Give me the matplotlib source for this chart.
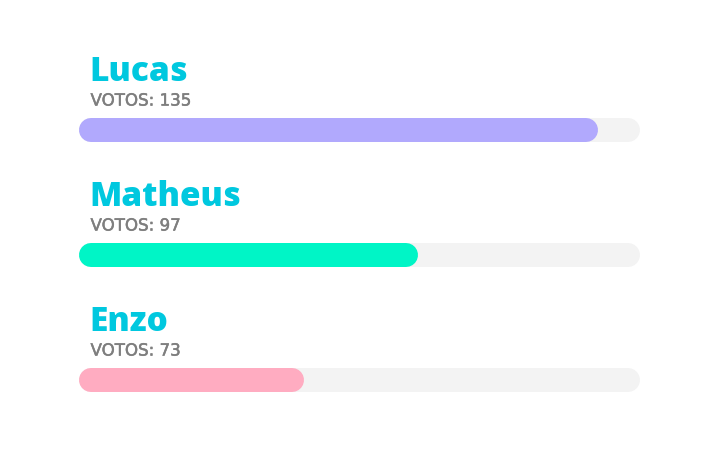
import matplotlib.pyplot as plt
import matplotlib.patheffects as pe

# dados
nomes = ["Lucas", "Matheus", "Enzo"]
votos = [135, 97, 73]
cores = ["#B1A9FD", "#00F5C6", "#FFACC1"]

fig = plt.figure(figsize=(7.2, 4.51), dpi=100)
ax = fig.add_axes([79 / 720, 0, 561 / 720, 1])

xmin, xmax = 25.44, 143.8
ax.set_xlim(xmin, xmax)
ax.set_ylim(2.568, -1.04)
ax.axis("off")

# raio da ponta arredondada (12 px) em unidades de dados
raio = 12 * (xmax - xmin) / 561
lw = 24 * 0.72

for i, (nome, v, cor) in enumerate(zip(nomes, votos, cores)):
    # trilho cinza
    ax.plot([xmin + raio, xmax - raio], [i, i], color="#F3F3F3", lw=lw,
            solid_capstyle="round")
    # barra de votos
    ax.plot([xmin + raio, v - raio], [i, i], color=cor, lw=lw,
            solid_capstyle="round")
    # nome e votos
    ax.annotate(nome, xy=(xmin, i), xytext=(7.5, 35.3), textcoords="offset points",
                fontsize=24, fontweight="heavy", family="Open Sans", color="#00C8DF",
                va="baseline", ha="left")
    ax.annotate(f"VOTOS: {v}", xy=(xmin, i), xytext=(8.3, 17.6),
                textcoords="offset points", fontsize=12, fontweight="normal",
                family="DejaVu Sans", color="#7E7E7E", va="baseline", ha="left",
                path_effects=[pe.withStroke(linewidth=0.35, foreground="#7E7E7E")])

fig.savefig("out.png", dpi=100)
